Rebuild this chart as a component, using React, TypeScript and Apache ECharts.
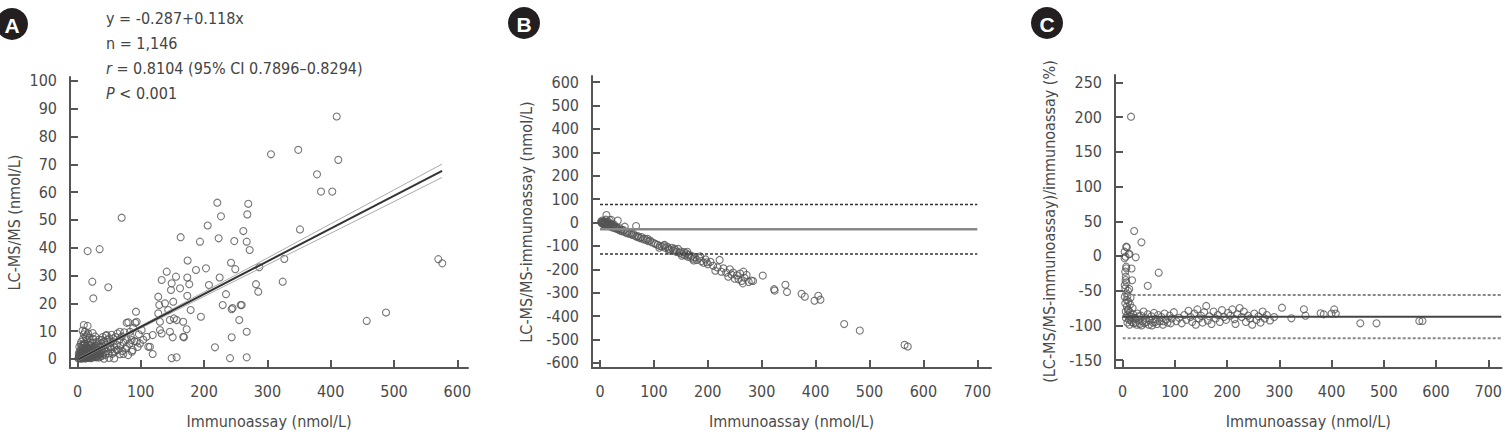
import React, { useEffect, useRef } from "react";
import * as echarts from "echarts";

const FONT = '"Liberation Sans Narrow", "DejaVu Sans Condensed", "Arial Narrow", sans-serif';
const FS = 16;
const TXT = "#4a4a4a";
const AX = "#555";

// ---------- Panel A: LC-MS/MS vs immunoassay ----------
const aXTicks = [0, 100, 200, 300, 400, 500, 600];
const aYTicks = [0, 10, 20, 30, 40, 50, 60, 70, 80, 90, 100];
const aPoints: number[][] = [
  [16, 38.8], [35, 39.5], [23.4, 27.8], [25, 21.8], [48.7, 25.8], [69.8, 50.8],
  [127.6, 22.4], [133, 28.4], [141, 31.4], [148.8, 27.2], [147.7, 24.8], [155.6, 29.6], [162, 25.4],
  [163, 43.8], [174, 35.4], [173.5, 29.3], [176.6, 26.9], [173.5, 22.7], [187.2, 32], [193.5, 42.2],
  [203, 32.6], [205.7, 48], [207.7, 26.6], [220.9, 56.2], [223, 43.4], [224.6, 29.3], [226.7, 51.3],
  [234.6, 23.3], [229.4, 19.4], [242.5, 34.6], [249.3, 32.3], [247.7, 42.4], [262, 46], [269.8, 55.8],
  [268.3, 52], [267.3, 42.2], [272, 39.2], [287.2, 33], [282, 26.9], [285.6, 24.2], [257.8, 19.4],
  [245, 18.3], [305.7, 73.6], [348.8, 75.2], [412, 71.6], [378.4, 66.4], [384.7, 60.2], [402.5, 60.2],
  [351.5, 46.6], [326.7, 36], [324.2, 27.8], [570, 35.9], [576.3, 34.4], [409.5, 87.2], [456.9, 13.7],
  [487.4, 16.7], [267.3, 9.8], [267.3, 0.6], [241, 0.3], [243.6, 7.8], [217.2, 4.2], [255.6, 14],
  [243.6, 17.9], [195, 15.2], [178.8, 17.6], [172.5, 10.7], [167.1, 8], [156.7, 0.6], [148.8, 0.3],
  [118.8, 1.8], [111.9, 4.4], [92.4, 17], [91.3, 13], [77.7, 13], [93.5, 6.2],
  [127.6, 16.4], [129.2, 19.4], [138.2, 20], [143.4, 17.6], [151.3, 20.6], [152.4, 14.6], [156.7, 14],
  [146, 14], [130.3, 13.4], [130.3, 10.4], [118.8, 8.6], [133, 9.2], [146, 9.8], [150.4, 7.8],
  [167, 13.4], [168.2, 7.8], [114.5, 4.4], [259.4, 19.4], [93.5, 13.4], [80.3, 13.2], [83, 9.8],
  [67, 9.8], [85.6, 6.8], [87.2, 3.2], [77.7, 4.4], [72.5, 1.8], [56.6, 7.4], [46.1, 8.6], [51.3, 4.4],
  [38.2, 6.8], [61.9, 3.2], [98.7, 5.6], [101.4, 10.4], [109.3, 8],
  [2, 0.5], [3, 1.2], [4, 0.3], [4, 2.1], [5, 0.8], [5, 3.4], [6, 1.5], [6, 0.2], [7, 2.6], [7, 4.8],
  [8, 0.9], [8, 1.9], [9, 3.1], [9, 0.4], [10, 1.4], [10, 5.6], [10, 8.9], [11, 2.3], [11, 0.7],
  [12, 3.8], [12, 1.1], [12, 9.8], [13, 0.3], [13, 2.9], [14, 1.7], [14, 4.6], [15, 0.6], [15, 2.2],
  [15, 6.9], [16, 1.3], [16, 3.5], [17, 0.9], [17, 5.1], [18, 2.6], [18, 0.4], [19, 1.8], [19, 7.6],
  [20, 3.3], [20, 0.8], [21, 1.5], [21, 4.2], [22, 2.7], [22, 0.5], [23, 1.1], [23, 5.8], [24, 3.6],
  [24, 2.0], [25, 0.9], [25, 7.2], [26, 1.6], [26, 4.4], [27, 2.9], [28, 0.7], [28, 3.9], [29, 1.9],
  [30, 6.1], [30, 2.4], [31, 0.9], [32, 3.2], [32, 5.3], [33, 1.6], [34, 7.0], [34, 2.5], [35, 4.1],
  [36, 0.8], [36, 2.0], [37, 5.6], [38, 3.1], [39, 1.2], [40, 7.9], [40, 4.6], [41, 2.2], [42, 6.3],
  [43, 3.7], [44, 1.5], [45, 8.4], [45, 5.0], [46, 2.9], [47, 6.8], [48, 4.1], [49, 2.0], [50, 7.4],
  [52, 5.8], [53, 3.5], [54, 8.7], [55, 1.9], [56, 6.2], [58, 4.3], [59, 2.6], [60, 7.9], [62, 5.1],
  [63, 9.2], [64, 3.4], [66, 6.7], [67, 1.7], [68, 4.8], [70, 8.1], [71, 2.9], [73, 5.9], [74, 9.6],
  [76, 3.8], [78, 7.1], [80, 1.4], [82, 5.5], [84, 8.3], [86, 2.6], [88, 11.1], [90, 6.4], [95, 4.3],
  [97, 8.9], [104, 6.9], [3, 4.4], [6, 6.2], [9, 7.3], [13, 7.9], [17, 9.1], [20, 6.0], [8, 10.2],
  [12, 5.5], [15, 8.5], [5, 5.3], [24, 9.3], [28, 8.1], [3, 2.5], [7, 0.2], [11, 4.9], [14, 3.2],
  [18, 4.0], [21, 2.4], [2, 1.8], [1.5, 0.2], [16, 11.9], [10, 12.2], [42, 0.1], [50, 0.4], [58, 0.2],
  [4, 1.1], [6, 2.8], [8, 3.9], [10, 2.5], [12, 0.2], [14, 2.5], [16, 0.5], [18, 1.5], [20, 2.0],
  [22, 1.6], [24, 0.5], [26, 2.6], [28, 1.8], [30, 0.6], [32, 1.9], [34, 0.5], [5, 1.9], [7, 1.2],
  [9, 2.2], [11, 3.6], [13, 1.6], [15, 4.0], [17, 2.9], [19, 0.7], [21, 0.3], [23, 2.4], [25, 3.2],
  [27, 1.0], [29, 4.6], [31, 3.1], [33, 4.4], [35, 1.5], [37, 2.8], [3, 0.6], [9, 5.0], [19, 4.9],
];
const fitX = [2, 576];
const fitY = [-0.051, 67.68];
const ciX = [2, 100, 200, 300, 400, 500, 576];
const ciUpper = [0.3, 11.9, 24.1, 36.3, 48.6, 60.8, 70.1];
const ciLower = [-0.4, 11.1, 22.5, 33.9, 45.2, 56.6, 65.3];

// ---------- Panel B: difference ----------
const bXTicks = [0, 100, 200, 300, 400, 500, 600, 700];
const bYTicks = [-600, -500, -400, -300, -200, -100, 0, 100, 200, 300, 400, 500, 600];
const bPoints: number[][] = [
  [2, 3], [3, -2], [4, 8], [5, -4], [6, 2], [7, -6], [8, 5], [9, -9], [10, -3], [11, 12], [12, 32],
  [13, -11], [14, -5], [15, 4], [16, -14], [17, -8], [18, 10], [19, -17], [20, -12], [21, 11],
  [22, -20], [24, -15], [25, -22], [26, -9], [28, -25], [30, -19], [32, -28], [33, 8], [35, -31],
  [36, -24], [38, -35], [40, -30], [42, -38], [44, -33], [46, -18], [47, -42], [50, -46], [52, -40],
  [55, -49], [58, -46], [60, -53], [62, -48], [65, -57], [67, -15], [68, -61], [70, -58], [72, -64],
  [75, -67], [77, -62], [80, -72], [83, -69], [86, -76], [90, -80], [93, -77], [96, -84], [100, -88],
  [103, -92], [107, -95], [111, -100], [115, -103], [118, -98], [121, -108], [125, -104], [127, -112],
  [130, -115], [133, -108], [136, -120], [140, -118], [142, -126], [145, -113], [148, -130],
  [150, -124], [153, -135], [156, -127], [158, -140], [160, -132], [163, -146], [165, -138],
  [168, -150], [170, -143], [173, -155], [176, -148], [180, -160], [184, -152], [188, -165],
  [192, -172], [196, -158], [200, -178], [205, -168], [210, -185], [214, -206], [218, -192],
  [222, -160], [225, -210], [229, -196], [234, -214], [238, -232], [241, -200], [244, -222],
  [247, -214], [250, -240], [254, -226], [257, -243], [260, -218], [263, -250], [265, -260],
  [266, -210], [268, -236], [272, -224], [276, -254], [281, -248], [284, -250], [302, -227],
  [323, -285], [324, -291], [344, -266], [347, -297], [374, -305], [380, -317], [398, -334],
  [405, -313], [409, -330], [453, -434], [482, -462], [565, -523], [571, -530],
  [3, 0], [5, 1], [6, -8], [8, -3], [9, 2], [11, -6], [12, -1], [14, -9], [16, -2], [18, -7],
  [20, -5], [23, -10], [27, -18], [31, -23], [128, -120], [138, -112], [152, -142], [162, -125],
  [174, -162], [186, -145], [198, -170], [120, -96], [110, -108], [88, -70],
];
const bLineX = [0, 700];
const bMean = -29;
const bUpper = 77;
const bLower = -135;

// ---------- Panel C: percent difference ----------
const cXTicks = [0, 100, 200, 300, 400, 500, 600, 700];
const cYTicks = [-150, -100, -50, 0, 50, 100, 150, 200, 250];
const cPoints: number[][] = [
  [16, 200.7], [22, 36], [36, 19.7], [25, -1.9], [8, 12.5], [5.5, -1], [13, 3], [6.7, 13.4],
  [3.7, 6.2], [11.6, 2.4], [3.7, -3.4], [69, -24], [48, -43], [6.7, -15.4], [7, -17.8], [4.9, -22.6],
  [6, -29.8], [5.5, -34.6], [4, -41.8], [5, -46.6], [12.6, -47.5], [7, -53.8], [4, -58.6], [8, -63.4],
  [5, -68], [8, -72.8], [11, -77.6], [14, -81], [9, -85], [16, -88], [12, -92], [18, -95], [20, -84],
  [10, -50], [15, -60], [14, -70], [19, -75], [17, -18], [18, -35], [6, -80], [9, -96], [13, -99],
  [22, -89], [25, -96], [28, -83], [30, -92], [33, -98], [35, -86], [38, -94], [40, -80], [42, -97],
  [45, -90], [48, -84], [50, -99], [52, -93], [55, -87], [58, -96], [60, -82], [63, -91], [66, -98],
  [68, -85], [71, -94], [74, -88], [77, -99], [80, -83], [83, -92], [86, -96], [90, -86], [94, -90],
  [98, -81], [103, -94], [108, -89], [113, -97], [118, -85], [122, -92], [126, -79], [130, -88],
  [133, -95], [137, -83], [140, -99], [143, -77], [146, -90], [150, -86], [153, -96], [156, -81],
  [160, -72], [163, -93], [166, -87], [170, -98], [174, -80], [178, -90], [182, -85], [186, -95],
  [190, -78], [194, -88], [198, -92], [202, -82], [206, -86], [210, -77], [214, -91], [216, -98],
  [220, -84], [224, -75], [228, -88], [232, -80], [236, -95], [240, -86], [244, -90], [248, -99],
  [252, -83], [256, -92], [260, -87], [264, -96], [268, -80], [272, -90], [276, -85], [282, -93],
  [290, -88], [305, -74.5], [323, -89.8], [347, -76.8], [350, -86], [379, -82.6], [385, -84],
  [405, -77], [400, -83], [408, -83], [455, -97], [486, -97], [568, -93.7], [574, -93.7],
  [7, -38], [9, -58], [11, -66], [6, -89], [10, -78], [13, -86], [15, -92], [21, -97], [24, -90],
  [27, -99], [31, -87], [36, -100], [44, -95], [56, -100], [62, -95], [78, -94], [92, -97],
];
const cLineX = [0, 725];
const cMean = -87.4;
const cUpper = -56.2;
const cLower = -118.6;

const zip = (xs: number[], ys: number[]) => xs.map((x, i) => [x, ys[i]]);
const flat = (xs: number[], v: number) => xs.map((x) => [x, v]);

function xAxis(gridIndex: number, min: number, max: number, ticks: number[]) {
  return {
    type: "value", gridIndex, min, max,
    name: "Immunoassay (nmol/L)", nameLocation: "middle", nameGap: 45,
    nameTextStyle: { fontFamily: FONT, fontSize: FS, color: TXT },
    axisLine: { show: true, onZero: false, lineStyle: { color: AX, width: 2 } },
    axisTick: { show: true, inside: true, length: 8, customValues: ticks, lineStyle: { color: AX, width: 2 } },
    axisLabel: { customValues: ticks, margin: 15, fontFamily: FONT, fontSize: FS, color: TXT },
    splitLine: { show: false },
  };
}
function yAxis(gridIndex: number, min: number, max: number, ticks: number[], name: string, gap: number) {
  return {
    type: "value", gridIndex, min, max,
    name, nameLocation: "middle", nameGap: gap,
    nameTextStyle: { fontFamily: FONT, fontSize: FS, color: TXT },
    axisLine: { show: true, onZero: false, lineStyle: { color: AX, width: 2 } },
    axisTick: { show: true, inside: true, length: 8, customValues: ticks, lineStyle: { color: AX, width: 2 } },
    axisLabel: { customValues: ticks, margin: 13, fontFamily: FONT, fontSize: FS, color: TXT },
    splitLine: { show: false },
  };
}
const scatterStyle = { color: "rgba(0,0,0,0)", borderColor: "#555", borderWidth: 1.1 };
function scatter(idx: number, data: number[][]) {
  return {
    type: "scatter", xAxisIndex: idx, yAxisIndex: idx, data, symbol: "circle", symbolSize: 7,
    itemStyle: scatterStyle, silent: true,
  };
}
function line(idx: number, data: number[][], color: string, width: number, type: any = "solid") {
  return {
    type: "line", xAxisIndex: idx, yAxisIndex: idx, data, showSymbol: false, symbol: "none",
    lineStyle: { color, width, type }, silent: true,
  };
}

function badge(cx: number, cy: number, letter: string) {
  return [
    { type: "circle", shape: { cx, cy, r: 16 }, style: { fill: "#231f20" } },
    {
      type: "text", x: cx, y: cy + 1,
      style: { text: letter, fill: "#fff", fontFamily: '"Liberation Sans", Arial, sans-serif', fontSize: 21, fontWeight: "bold", align: "center", verticalAlign: "middle" },
    },
  ];
}

const annoLines = [
  "y = -0.287+0.118x",
  "n = 1,146",
  "{i|r} = 0.8104 (95% CI 0.7896\u20130.8294)",
  "{i|P} < 0.001",
];

export default function App() {
  const ref = useRef<HTMLDivElement>(null);
  useEffect(() => {
    document.body.style.margin = "0";
    const chart = echarts.init(ref.current!, null, { renderer: "svg" });
    const annoStyle = { fontFamily: FONT, fontSize: FS, fill: "#444" };
    chart.setOption({
      animation: false,
      grid: [
        { left: 70, top: 77, width: 398, height: 291 },
        { left: 592, top: 76, width: 399, height: 292 },
        { left: 1115, top: 75, width: 404, height: 293 },
      ],
      xAxis: [
        xAxis(0, -11.8, 616.9, aXTicks),
        xAxis(1, -14.8, 725.4, bXTicks),
        xAxis(2, -14.7, 725.3, cXTicks),
      ],
      yAxis: [
        yAxis(0, -3.24, 101.4, aYTicks, "LC-MS/MS (nmol/L)", 48),
        yAxis(1, -621.8, 626, bYTicks, "LC-MS/MS-immunoassay (nmol/L)", 58),
        yAxis(2, -161.4, 260.8, cYTicks, "(LC-MS/MS-immunoassay)/immunoassay (%)", 58),
      ],
      series: [
        scatter(0, aPoints),
        line(0, zip(ciX, ciUpper), "#aaa", 1),
        line(0, zip(ciX, ciLower), "#aaa", 1),
        line(0, zip(fitX, fitY), "#333", 2),
        scatter(1, bPoints),
        line(1, flat(bLineX, bMean), "#888", 2.5),
        line(1, flat(bLineX, bUpper), "#333", 1.5, [3, 2]),
        line(1, flat(bLineX, bLower), "#333", 1.5, [3, 2]),
        scatter(2, cPoints),
        line(2, flat(cLineX, cMean), "#444", 2),
        line(2, flat(cLineX, cUpper), "#888", 2, [3, 2]),
        line(2, flat(cLineX, cLower), "#888", 2, [3, 2]),
      ],
      graphic: [
        ...badge(12, 24, "A"),
        ...badge(524, 23, "B"),
        ...badge(1047, 23, "C"),
        ...annoLines.map((t, i) => ({
          type: "text", x: 106, y: 18 + i * 25.3,
          style: {
            ...annoStyle, text: t, verticalAlign: "middle",
            rich: { i: { ...annoStyle, fontStyle: "italic" } },
          },
        })),
      ],
    });
    return () => chart.dispose();
  }, []);
  return <div ref={ref} style={{ width: 1505, height: 438 }} />;
}
